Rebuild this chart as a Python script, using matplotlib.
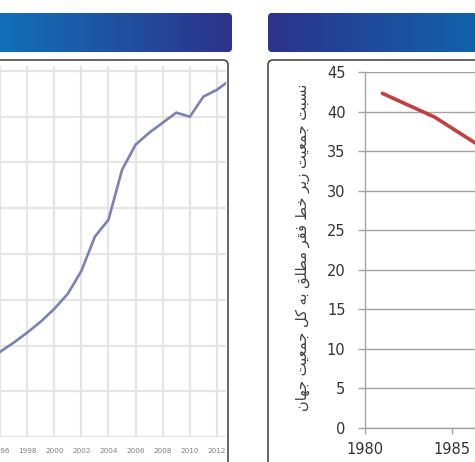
import numpy as np
import matplotlib
matplotlib.use("Agg")
import matplotlib.pyplot as plt
from matplotlib.patches import FancyBboxPatch
from matplotlib.colors import LinearSegmentedColormap
from matplotlib import font_manager, ft2font

W, H = 475, 462

# left panel (cut off on the left; only the upper part is visible)
years_left = list(range(1996, 2014))
values_left = [1.86, 2.06, 2.28, 2.52, 2.80, 3.13, 3.63, 4.38, 4.75,
               5.84, 6.39, 6.65, 6.87, 7.09, 7.00, 7.44, 7.59, 7.81]
ticks_left = list(range(1996, 2013, 2))

# right panel: share of world population under the absolute poverty line (%)
years_right = [1981, 1984, 1987]
poverty_share = [42.3, 39.3, 35.1]
yticks_right = list(range(0, 46, 5))
xticks_right = [1980, 1985]
ylabel_fa = "نسبت جمعیت زیر خط فقر مطلق به کل جمعیت جهان"

# --- poor man's Persian shaping (matplotlib has no bidi / joining) ---
FORMS = {  # isolated, final, initial, medial
    'ا': '\uFE8D\uFE8E',
    'ر': '\uFEAD\uFEAE',
    'ز': '\uFEAF\uFEB0',
    'ب': '\uFE8F\uFE90\uFE91\uFE92',
    'ت': '\uFE95\uFE96\uFE97\uFE98',
    'ج': '\uFE9D\uFE9E\uFE9F\uFEA0',
    'خ': '\uFEA5\uFEA6\uFEA7\uFEA8',
    'س': '\uFEB1\uFEB2\uFEB3\uFEB4',
    'ط': '\uFEC1\uFEC2\uFEC3\uFEC4',
    'ع': '\uFEC9\uFECA\uFECB\uFECC',
    'ف': '\uFED1\uFED2\uFED3\uFED4',
    'ق': '\uFED5\uFED6\uFED7\uFED8',
    'ل': '\uFEDD\uFEDE\uFEDF\uFEE0',
    'م': '\uFEE1\uFEE2\uFEE3\uFEE4',
    'ن': '\uFEE5\uFEE6\uFEE7\uFEE8',
    'ه': '\uFEE9\uFEEA\uFEEB\uFEEC',
    'ک': '\uFB8E\uFB8F\uFB90\uFB91',
    'ی': '\uFBFC\uFBFD\uFBFE\uFBFF',
}
cmap_font = ft2font.FT2Font(font_manager.findfont('DejaVu Sans')).get_charmap()
if 0xFB90 not in cmap_font:
    FORMS['ک'] = '\uFED9\uFEDA\uFEDB\uFEDC'
if 0xFBFE not in cmap_font:
    FORMS['ی'] = '\uFEEF\uFEF0\uFEF3\uFEF4'


def shape_fa(text):
    out = []
    for i, ch in enumerate(text):
        if ch not in FORMS:
            out.append(ch)
            continue
        f = FORMS[ch]
        prev = text[i - 1] if i > 0 else ' '
        nxt = text[i + 1] if i + 1 < len(text) else ' '
        p = prev in FORMS and len(FORMS[prev]) == 4
        n = len(f) == 4 and nxt in FORMS
        if p and n:
            out.append(f[3])
        elif p:
            out.append(f[1])
        elif n:
            out.append(f[2])
        else:
            out.append(f[0])
    return ''.join(reversed(out))


def fx(px):
    return px / W


def fy(py):
    return 1 - py / H


fig = plt.figure(figsize=(W / 100, H / 100), dpi=100)

# ---------------- left chart ----------------
px_per_year = 13.56
x_left0, x_left1 = 0, 226
axL = fig.add_axes([fx(x_left0), fy(437), fx(x_left1 - x_left0), (437 - 66) / H])
axL.plot(years_left, values_left, color='#7b81b3', lw=1.9, solid_joinstyle='round')
axL.set_xlim(1996, 1996 + (x_left1 - x_left0) / px_per_year)
axL.set_ylim(0, (437 - 66) / 45.75)
axL.set_xticks(ticks_left)
axL.set_yticks(range(0, 9))
axL.set_yticklabels([])
axL.grid(True, color='#e5e5e5', lw=1.6)
axL.set_axisbelow(True)
for s in axL.spines.values():
    s.set_visible(False)
axL.tick_params(axis='both', length=0)
axL.tick_params(axis='x', labelsize=5.2, labelcolor='#7f7f7f', pad=8)

# ---------------- right chart ----------------
px_per_year_r = 17.4
axR = fig.add_axes([fx(365), fy(428), fx(35 * px_per_year_r), (428 - 72) / H])
axR.plot(years_right, poverty_share, color='#c63d3f', lw=2.6, solid_capstyle='round')
axR.set_xlim(1980, 2015)
axR.set_ylim(0, 45)
axR.set_yticks(yticks_right)
axR.set_xticks(xticks_right)
axR.grid(True, axis='y', color='#a3a3a3', lw=1.0)
axR.set_axisbelow(True)
for side in ['top', 'right']:
    axR.spines[side].set_visible(False)
for side in ['left', 'bottom']:
    axR.spines[side].set_color('#a3a3a3')
    axR.spines[side].set_linewidth(1.0)
axR.tick_params(axis='y', length=5, width=1.0, color='#a3a3a3', pad=9,
                labelsize=10.5, labelcolor='#333333')
axR.tick_params(axis='x', length=4, width=1.0, color='#a3a3a3', pad=6,
                labelsize=10.5, labelcolor='#333333')

# ---------------- frames, header bars, label ----------------
axO = fig.add_axes([0, 0, 1, 1], zorder=10)
axO.axis('off')


def header_bar(x0, x1, c0, c1):
    cm = LinearSegmentedColormap.from_list('bar', [c0, c1])
    im = axO.imshow(np.linspace(0, 1, 256)[None, :], cmap=cm,
                    extent=(x0, x1, 52, 13), aspect='auto')
    clip = FancyBboxPatch((x0, 13), x1 - x0, 39,
                          boxstyle='round,pad=0,rounding_size=4',
                          fc='none', ec='none')
    axO.add_patch(clip)
    im.set_clip_path(clip)


header_bar(-60, 232, '#0a80c4', '#2c338a')
header_bar(268, 540, '#2c338a', '#0a70b6')

for x0, x1 in [(-40, 228), (268, 520)]:
    axO.add_patch(FancyBboxPatch((x0, 60), x1 - x0, 440,
                                 boxstyle='round,pad=0,rounding_size=5',
                                 fc='none', ec='#3a3a3a', lw=1.1))

axO.text(303, 247, shape_fa(ylabel_fa), rotation=90, ha='center', va='center',
         fontsize=10.5, color='#404040', family='DejaVu Sans')

axO.set_xlim(0, W)
axO.set_ylim(H, 0)

fig.savefig('out.png', dpi=100)
